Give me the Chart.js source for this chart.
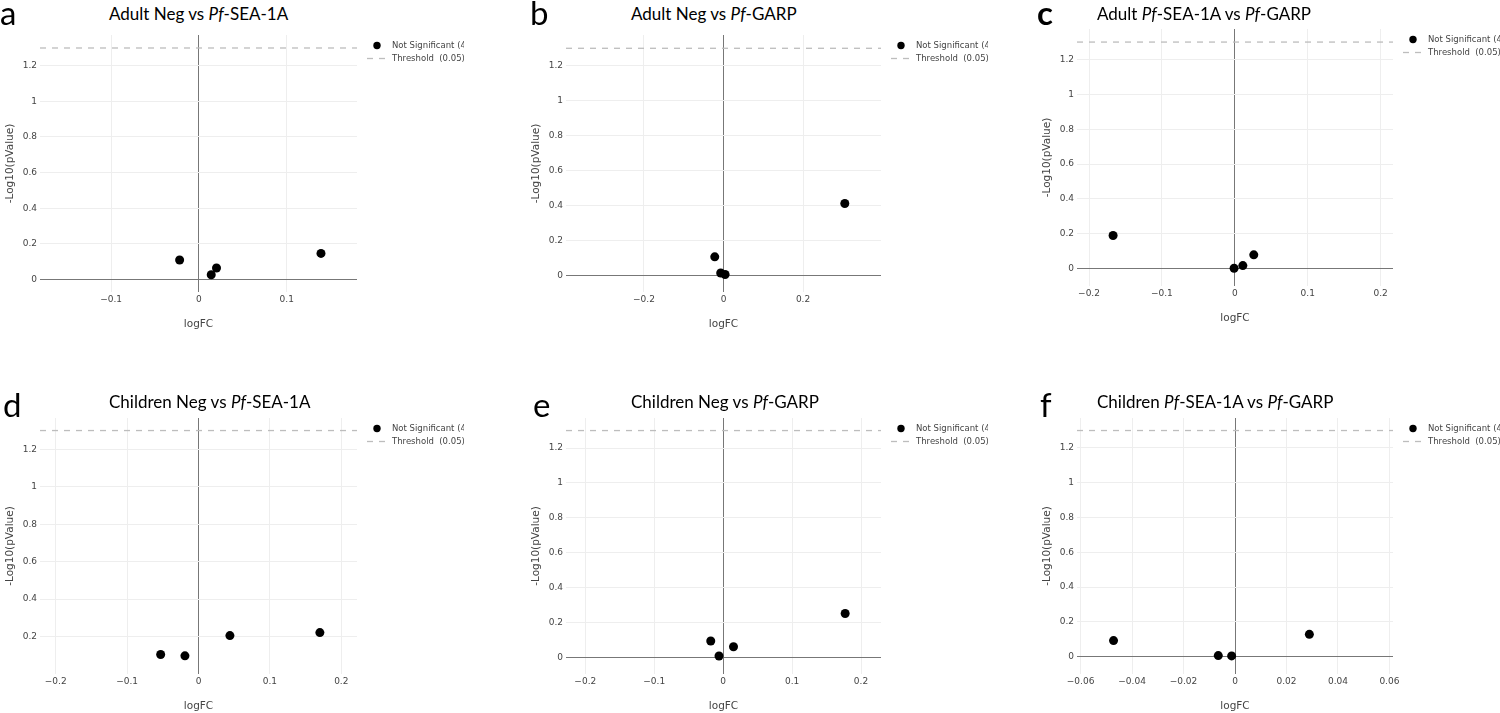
<!DOCTYPE html>
<html>
<head>
<meta charset="utf-8">
<script src="https://cdn.jsdelivr.net/npm/chart.js@4.4.1/dist/chart.umd.min.js"></script>
<style>
    body { margin: 0; background: #fff; }
    #wrap { position: relative; width: 1500px; height: 713px; overflow: hidden; }
    canvas { position: absolute; }
    .title { position: absolute; font-family: Lato, "Open Sans", sans-serif; font-size: 17px; line-height: 17px; color: #000; white-space: nowrap; }
    .letter { position: absolute; font-family: Lato, "Open Sans", sans-serif; font-size: 33px; line-height: 33px; color: #000; }
</style>
</head>
<body>
<div id="wrap"></div>
<script>
// Panel letters and titles
const LETTERS = ["a", "b", "c", "d", "e", "f"];
const TITLES = [
    "Adult Neg vs <i>Pf</i>-SEA-1A",
    "Adult Neg vs <i>Pf</i>-GARP",
    "Adult <i>Pf</i>-SEA-1A vs <i>Pf</i>-GARP",
    "Children Neg vs <i>Pf</i>-SEA-1A",
    "Children Neg vs <i>Pf</i>-GARP",
    "Children <i>Pf</i>-SEA-1A vs <i>Pf</i>-GARP"
];

// Series: logFC (x) and -log10(pValue) (y), 4 analytes per comparison
const LOGFC_A = [-0.022, 0.014, 0.020, 0.139];
const NEGLOGP_A = [0.109, 0.026, 0.064, 0.146];
const LOGFC_B = [-0.022, -0.007, 0.004, 0.305];
const NEGLOGP_B = [0.107, 0.015, 0.006, 0.412];
const LOGFC_C = [-0.167, -0.001, 0.011, 0.026];
const NEGLOGP_C = [0.190, 0.002, 0.017, 0.079];
const LOGFC_D = [-0.053, -0.019, 0.044, 0.170];
const NEGLOGP_D = [0.104, 0.097, 0.205, 0.221];
const LOGFC_E = [-0.018, -0.006, 0.015, 0.177];
const NEGLOGP_E = [0.094, 0.008, 0.061, 0.252];
const LOGFC_F = [-0.0472, -0.0065, -0.0013, 0.0289];
const NEGLOGP_F = [0.092, 0.006, 0.004, 0.128];

const THRESHOLD = 1.3; // -log10(0.05)
const SERIES_LABELS = ["Not Significant (4)", "Threshold  (0.05)"];

// Tick labels
const X_TICKS_A = [-0.1, 0, 0.1];
const X_TICKS_B = [-0.2, 0, 0.2];
const X_TICKS_C = [-0.2, -0.1, 0, 0.1, 0.2];
const X_TICKS_F = [-0.06, -0.04, -0.02, 0, 0.02, 0.04, 0.06];
const Y_TICKS = [0, 0.2, 0.4, 0.6, 0.8, 1, 1.2];
const Y_TICKS_D = [0.2, 0.4, 0.6, 0.8, 1, 1.2];

// Axis ranges
const X_RANGES = [[-0.181, 0.180], [-0.396, 0.396], [-0.2165, 0.217], [-0.222, 0.222], [-0.228, 0.229], [-0.0614, 0.0614]];
const Y_RANGES = [[-0.071, 1.373], [-0.094, 1.376], [-0.10, 1.375], [0.0, 1.367], [-0.095, 1.372], [-0.10, 1.372]];

const PANELS = [
    { x: LOGFC_A, y: NEGLOGP_A, xt: X_TICKS_A, yt: Y_TICKS },
    { x: LOGFC_B, y: NEGLOGP_B, xt: X_TICKS_B, yt: Y_TICKS },
    { x: LOGFC_C, y: NEGLOGP_C, xt: X_TICKS_C, yt: Y_TICKS },
    { x: LOGFC_D, y: NEGLOGP_D, xt: X_TICKS_C, yt: Y_TICKS_D },
    { x: LOGFC_E, y: NEGLOGP_E, xt: X_TICKS_C, yt: Y_TICKS },
    { x: LOGFC_F, y: NEGLOGP_F, xt: X_TICKS_F, yt: Y_TICKS }
];

// Layout: plot boxes [left, top, right, bottom] and text anchors
const PLOT_BOX = [[40, 35, 357, 292], [566, 35, 881, 292], [1077, 29, 1393, 286],
                  [40, 418, 357, 674], [566, 418, 881, 674], [1077, 418, 1393, 674]];
const TITLE_POS = [[109, 20], [631, 20], [1097, 20], [109, 408], [631, 408], [1097, 408]];
const LETTER_POS = [[0, 25], [530, 25], [1037, 25], [3, 417], [533, 417], [1040, 417]];

const TICK_FONT = { family: "DejaVu Sans", size: 9 };
const LEGEND_FONT = { family: "DejaVu Sans", size: 8.5 };
const AXIS_FONT = { family: "DejaVu Sans", size: 10.5 };
const PAD_TOP = 10, PAD_RIGHT = 107, Y_AXIS_W = 40, X_AXIS_H = 43;

const fmt = (v) => (v < 0 ? "\u2212" + Math.abs(v) : String(v));

// Legend drawn outside the plot, clipped by the canvas edge like the original
const sideLegend = {
    id: "sideLegend",
    afterDraw(chart) {
        const { ctx, chartArea } = chart;
        ctx.save();
        chart.data.datasets.forEach((ds, i) => {
            const y = chartArea.top + 10.5 + i * 13;
            const cx = chartArea.right + 20;
            if (ds.showLine) {
                ctx.strokeStyle = ds.borderColor;
                ctx.lineWidth = ds.borderWidth;
                ctx.setLineDash(ds.borderDash);
                ctx.beginPath();
                ctx.moveTo(cx - 10, y);
                ctx.lineTo(cx + 10, y);
                ctx.stroke();
                ctx.setLineDash([]);
            } else {
                ctx.fillStyle = ds.backgroundColor;
                ctx.beginPath();
                ctx.arc(cx, y, 3.7, 0, Math.PI * 2);
                ctx.fill();
            }
            ctx.fillStyle = "#444";
            ctx.font = LEGEND_FONT.size + "px " + LEGEND_FONT.family;
            ctx.textBaseline = "middle";
            ctx.textAlign = "left";
            ctx.fillText(ds.label, chartArea.right + 35, y);
        });
        ctx.restore();
    }
};

const WRAP = document.getElementById("wrap");

PANELS.forEach((p, i) => {
    const [L, T, R, B] = PLOT_BOX[i];
    const left = L - Y_AXIS_W, top = T - PAD_TOP;
    const width = R + PAD_RIGHT - left, height = B + X_AXIS_H - top;

    const cv = document.createElement("canvas");
    cv.width = width;
    cv.height = height;
    cv.style.left = left + "px";
    cv.style.top = top + "px";
    cv.style.width = width + "px";
    cv.style.height = height + "px";
    WRAP.appendChild(cv);

    const title = document.createElement("div");
    title.className = "title";
    title.innerHTML = TITLES[i];
    title.style.left = TITLE_POS[i][0] + "px";
    title.style.top = (TITLE_POS[i][1] - 0.887 * 17) + "px";
    WRAP.appendChild(title);

    const letter = document.createElement("div");
    letter.className = "letter";
    letter.textContent = LETTERS[i];
    letter.style.left = LETTER_POS[i][0] + "px";
    letter.style.top = (LETTER_POS[i][1] - 0.887 * 33) + "px";
    if (LETTERS[i] === "c") letter.style.fontWeight = "bold";
    WRAP.appendChild(letter);

    const xr = X_RANGES[i], yr = Y_RANGES[i];

    new Chart(cv, {
        type: "scatter",
        data: {
            datasets: [
                {
                    label: SERIES_LABELS[0],
                    data: p.x.map((v, k) => ({ x: v, y: p.y[k] })),
                    backgroundColor: "#000",
                    borderColor: "#000",
                    pointRadius: 4.5,
                    pointBorderWidth: 0,
                    showLine: false
                },
                {
                    label: SERIES_LABELS[1],
                    data: [{ x: xr[0], y: THRESHOLD }, { x: xr[1], y: THRESHOLD }],
                    showLine: true,
                    borderColor: "#bdbdbd",
                    borderWidth: 1.3,
                    borderDash: [6, 6],
                    pointRadius: 0
                }
            ]
        },
        options: {
            responsive: false,
            animation: false,
            devicePixelRatio: 1,
            layout: { padding: { left: 0, top: PAD_TOP, right: PAD_RIGHT, bottom: 0 } },
            plugins: { legend: { display: false }, tooltip: { enabled: false } },
            scales: {
                x: {
                    type: "linear",
                    min: xr[0],
                    max: xr[1],
                    afterBuildTicks: (s) => { s.ticks = p.xt.map((v) => ({ value: v })); },
                    afterFit: (s) => { s.height = X_AXIS_H; },
                    border: { display: false },
                    grid: {
                        drawTicks: false,
                        color: (c) => (c.tick && c.tick.value === 0 ? "#777" : "#eeeeee"),
                        lineWidth: 1
                    },
                    ticks: { padding: 2, color: "#444", font: TICK_FONT, callback: fmt, maxRotation: 0 },
                    title: { display: true, text: "logFC", color: "#444", font: AXIS_FONT, padding: { top: 4, bottom: 4 } }
                },
                y: {
                    type: "linear",
                    min: yr[0],
                    max: yr[1],
                    afterBuildTicks: (s) => { s.ticks = p.yt.map((v) => ({ value: v })); },
                    afterFit: (s) => { s.width = Y_AXIS_W; },
                    border: { display: false },
                    grid: {
                        drawTicks: false,
                        color: (c) => (c.tick && c.tick.value === 0 ? "#777" : "#eeeeee"),
                        lineWidth: 1
                    },
                    ticks: { padding: 3, color: "#444", font: TICK_FONT, callback: fmt },
                    title: { display: true, text: "-Log10(pValue)", color: "#444", font: AXIS_FONT, padding: { top: 4, bottom: 4 } }
                }
            }
        },
        plugins: [sideLegend]
    });
});
</script>
</body>
</html>
